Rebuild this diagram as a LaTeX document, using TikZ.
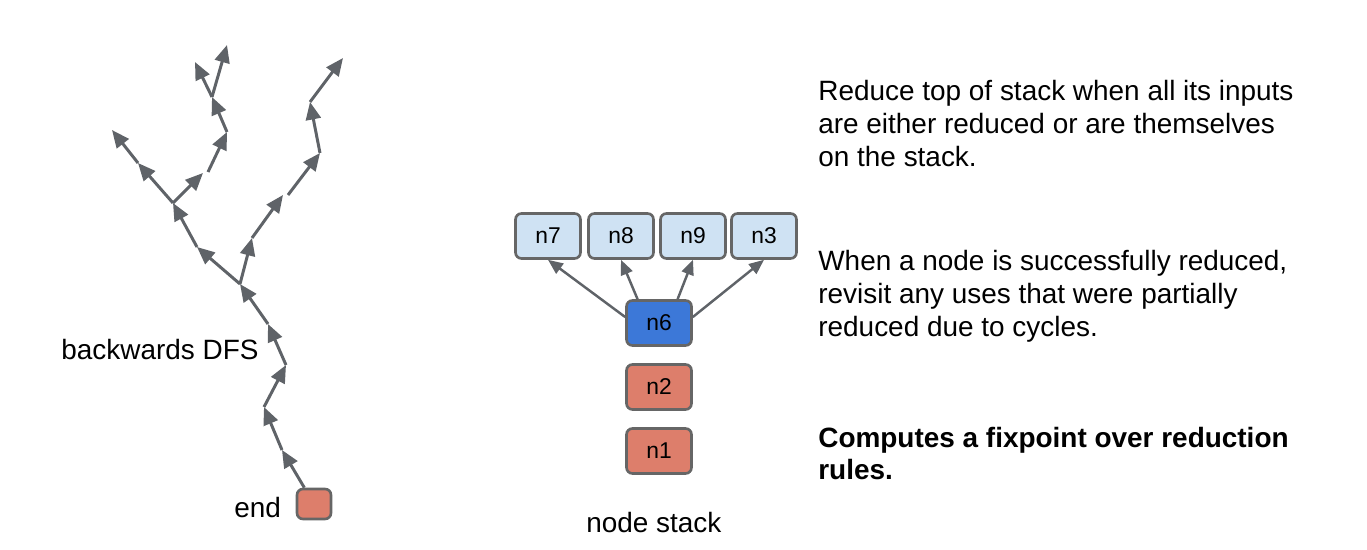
\documentclass[tikz,border=0pt]{standalone}
\usepackage{fontspec}
\setmainfont{Liberation Sans}
\usepackage{tikz}
\usetikzlibrary{arrows.meta}
\definecolor{edgegray}{HTML}{5F6368}
\definecolor{boxgray}{HTML}{666666}
\definecolor{lightblue}{HTML}{CFE2F3}
\definecolor{topblue}{HTML}{3C78D8}
\definecolor{stackred}{HTML}{DD7E6B}
\tikzset{
	dfsarrow/.style={line width=1.7pt, color=edgegray, -{Triangle[length=10pt,width=8.5pt]}},
	usearrow/.style={line width=1.4pt, color=edgegray, -{Triangle[length=8.5pt,width=7pt]}},
	stackbox/.style={draw=boxgray, line width=1.5pt, rounded corners=3.4pt, minimum width=1.3cm, minimum height=0.9cm, inner sep=0pt, font=\fontsize{13}{15}\selectfont},
	label/.style={inner sep=0pt, anchor=base west, font=\fontsize{15.9}{18}\selectfont},
	note/.style={inner sep=0pt, anchor=base west, align=left, font=\fontsize{15.9}{18.8}\selectfont}
}

\begin{document}
\begin{tikzpicture}[x=0.02cm, y=-0.02cm]
		%%%%% START %%%%%
		\useasboundingbox (0, 0) rectangle (1367, 550);
		
		% backwards search tree
		\node[stackbox, fill=stackred, minimum width=0.68cm, minimum height=0.6cm] (endbox) at (314, 504) {};
		\node[label] (endlabel) at (234, 518) {end};
		\node[label] (dfslabel) at (61, 360) {backwards DFS};
		
		\coordinate (t1) at (282, 450);
		\coordinate (t2) at (264, 407);
		\coordinate (t3) at (286, 365);
		\coordinate (t4) at (268, 324);
		\coordinate (t5) at (240, 284);
		
		\coordinate (a1) at (197, 247);
		\coordinate (a2) at (173, 203);
		\coordinate (a3) at (138, 163);
		\coordinate (a4) at (112, 130);
		\coordinate (a5) at (203, 173);
		\coordinate (a5b) at (208, 172);
		\coordinate (a6) at (227, 132);
		\coordinate (a7) at (212, 97);
		\coordinate (a8) at (195, 62);
		\coordinate (a9) at (227, 45);
		
		\coordinate (b1) at (252, 238);
		\coordinate (b2) at (283, 195);
		\coordinate (b2b) at (288, 195);
		\coordinate (b3) at (320, 153);
		\coordinate (b4) at (310, 102);
		\coordinate (b5) at (343, 58);
		
		\draw[dfsarrow] (endbox) -- (t1);
		\draw[dfsarrow] (t1) -- (t2);
		\draw[dfsarrow] (t2) -- (t3);
		\draw[dfsarrow] (t3) -- (t4);
		\draw[dfsarrow] (t4) -- (t5);
		
		\draw[dfsarrow] (t5) -- (a1);
		\draw[dfsarrow] (a1) -- (a2);
		\draw[dfsarrow] (a2) -- (a3);
		\draw[dfsarrow] (a3) -- (a4);
		\draw[dfsarrow] (a2) -- (a5);
		\draw[dfsarrow] (a5b) -- (a6);
		\draw[dfsarrow] (a6) -- (a7);
		\draw[dfsarrow] (a7) -- (a8);
		\draw[dfsarrow] (a7) -- (a9);
		
		\draw[dfsarrow] (t5) -- (b1);
		\draw[dfsarrow] (b1) -- (b2);
		\draw[dfsarrow] (b2b) -- (b3);
		\draw[dfsarrow] (b3) -- (b4);
		\draw[dfsarrow] (b4) -- (b5);
		
		% node stack
		\node[stackbox, fill=lightblue] (n7) at (548, 236) {n7};
		\node[stackbox, fill=lightblue] (n8) at (621, 236) {n8};
		\node[stackbox, fill=lightblue] (n9) at (693, 236) {n9};
		\node[stackbox, fill=lightblue] (n3) at (764, 236) {n3};
		\node[stackbox, fill=topblue] (n6) at (659, 323) {n6};
		\node[stackbox, fill=stackred] (n2) at (659, 387) {n2};
		\node[stackbox, fill=stackred] (n1) at (659, 451) {n1};
		\node[label] (stacklabel) at (586, 533) {node stack};
		
		\draw[usearrow] (n6.170) -- (n7.south);
		\draw[usearrow] (n6.132) -- (n8.south);
		\draw[usearrow] (n6.52) -- (n9.south);
		\draw[usearrow] (n6.10) -- (n3.south);
		
		% notes (base = last line)
		\node[note] (reducenote) at (818, 167) {Reduce top of stack when all its inputs\\are either reduced or are themselves\\on the stack.};
		\node[note] (revisitnote) at (818, 337) {When a node is successfully reduced,\\revisit any uses that were partially\\reduced due to cycles.};
		\node[note, font=\fontsize{15.9}{18.3}\selectfont\bfseries] (fixnote) at (818, 480) {Computes a fixpoint over reduction\\rules.};
		
		%%%%% END %%%%%
	\end{tikzpicture}
\end{document}
